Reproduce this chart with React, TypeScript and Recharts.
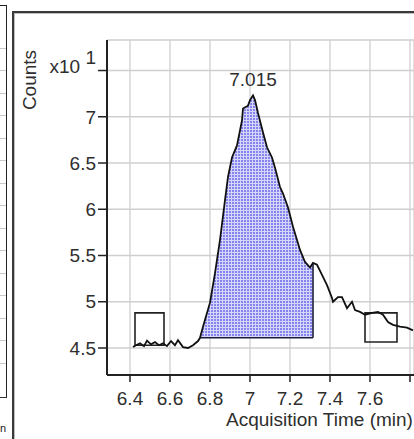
import React from "react";
import {
  Area,
  CartesianGrid,
  ComposedChart,
  Line,
  ReferenceArea,
  ReferenceDot,
  ReferenceLine,
  XAxis,
  YAxis,
} from "recharts";

// acquisition time (min) and counts (x10^1)
const times = [
  6.415, 6.43, 6.45, 6.47, 6.485, 6.505, 6.525, 6.545, 6.565, 6.585, 6.605, 6.625, 6.64, 6.665,
  6.69, 6.715, 6.74, 6.75, 6.765, 6.8, 6.825, 6.85, 6.875, 6.89, 6.91, 6.935, 6.96, 6.965, 6.99,
  7.0, 7.015, 7.025, 7.04, 7.065, 7.085, 7.11, 7.125, 7.15, 7.165, 7.19, 7.215, 7.25, 7.275, 7.3,
  7.315, 7.335, 7.36, 7.385, 7.41, 7.415, 7.44, 7.46, 7.485, 7.51, 7.525, 7.55, 7.575, 7.61, 7.64,
  7.665, 7.69, 7.715, 7.75, 7.785, 7.815,
];
const counts = [
  4.51, 4.53, 4.55, 4.52, 4.58, 4.54, 4.565, 4.53, 4.55, 4.52, 4.575, 4.53, 4.585, 4.51,
  4.5, 4.53, 4.575, 4.61, 4.73, 4.99, 5.31, 5.67, 6.1, 6.35, 6.56, 6.69, 6.96, 7.09, 7.12,
  7.18, 7.23, 7.18, 7.04, 6.83, 6.67, 6.56, 6.45, 6.24, 6.17, 6.02, 5.81, 5.56, 5.43, 5.37,
  5.42, 5.4, 5.29, 5.18, 5.04, 5.0, 5.05, 5.05, 4.93, 5.0, 4.91, 4.89, 4.86, 4.88, 4.89,
  4.86, 4.78, 4.75, 4.73, 4.72, 4.69,
];

const xTicks = [6.4, 6.6, 6.8, 7, 7.2, 7.4, 7.6, 7.8];
const yTicks = [4.5, 5, 5.5, 6, 6.5, 7, 7.5];

// integrated peak
const peakTime = 7.015;
const peakCount = 7.23;
const fillStart = 6.75;
const fillEnd = 7.315;
const fillBase = 4.61;

// noise boxes [x1, x2, y1, y2]
const noiseBoxes = [
  [6.425, 6.57, 4.53, 4.88],
  [7.575, 7.735, 4.565, 4.88],
];

const data = times.map((t, i) => {
  const inPeak = t >= fillStart && t <= fillEnd;
  return {
    t,
    c: counts[i],
    peak: inPeak ? counts[i] : null,
    base: inPeak ? fillBase : null,
  };
});

const font = "'Liberation Sans', Arial, sans-serif";
const ink = "#2e2e2e";

const YTick = ({ x, y, payload }: any) => {
  if (payload.value === 7.5) {
    return (
      <text x={x} y={y - 4} dy="0.355em" textAnchor="end" fontSize={19} fill={ink} fontFamily={font}>
        x10 <tspan dy={-9}>1</tspan>
      </text>
    );
  }
  return (
    <text x={x} y={y} dy="0.355em" textAnchor="end" fontSize={19} fill={ink} fontFamily={font}>
      {payload.value}
    </text>
  );
};

const stripLines = [48, 70, 93, 115, 138, 160, 183, 205, 228, 250, 273, 295, 318, 340, 363];

export default function App() {
  return (
    <div
      style={{
        position: "fixed",
        left: 0,
        top: 0,
        width: 414,
        height: 439,
        overflow: "hidden",
        background: "#fff",
      }}
    >
      {/* left side panel bits */}
      <div style={{ position: "absolute", left: 0, top: 5, width: 7, height: 1, background: "#222" }} />
      <div style={{ position: "absolute", left: 6, top: 5, width: 1, height: 392, background: "#222" }} />
      {stripLines.map((y) => (
        <div key={y} style={{ position: "absolute", left: 0, top: y, width: 6, height: 1, background: "#c8c8c8" }} />
      ))}
      <div style={{ position: "absolute", left: 0, top: 397, width: 7, height: 1, background: "#333" }} />
      <div
        style={{
          position: "absolute",
          left: 0,
          top: 422,
          fontSize: 11,
          fontFamily: font,
          color: "#222",
        }}
      >
        n
      </div>
      {/* chart window frame */}
      <div
        style={{
          position: "absolute",
          left: 12,
          top: 11,
          width: 420,
          height: 440,
          borderLeft: "2px solid #3a3a3a",
          borderTop: "2px solid #3a3a3a",
          boxShadow: "inset 1px 1px 0 #bdbdbd",
        }}
      />
      <div
        style={{
          position: "absolute",
          left: 22,
          top: 80,
          transform: "translate(-50%, -50%) rotate(-90deg)",
          transformOrigin: "center",
          fontSize: 19,
          fontFamily: font,
          color: ink,
          whiteSpace: "nowrap",
          marginLeft: 8,
        }}
      >
        Counts
      </div>
      <div style={{ position: "absolute", left: 0, top: 0 }}>
        <ComposedChart width={414} height={439} data={data} margin={{ top: 40, right: 0, bottom: 34, left: 7 }}>
          <defs>
            <pattern id="dots" width={3} height={3} patternUnits="userSpaceOnUse">
              <rect width={3} height={3} fill="#d6d6fb" />
              <rect x={1} y={1} width={2} height={2} fill="#8484ec" />
            </pattern>
          </defs>
          <CartesianGrid stroke="#cfcfcf" strokeWidth={1.3} />
          <XAxis
            dataKey="t"
            type="number"
            domain={[6.285, 7.82]}
            allowDataOverflow
            ticks={xTicks}
            interval={0}
            tickFormatter={(v: number) => (v === 7.8 ? "" : String(v))}
            tickSize={7}
            tickMargin={10}
            height={30}
            axisLine={{ stroke: "#222", strokeWidth: 2 }}
            tickLine={{ stroke: "#222", strokeWidth: 1.5 }}
            tick={{ fontSize: 19, fill: ink, fontFamily: font }}
            label={{
              value: "Acquisition Time (min)",
              position: "bottom",
              dx: 59,
              dy: 3,
              fontSize: 19,
              fill: ink,
              fontFamily: font,
            }}
          />
          <YAxis
            type="number"
            domain={[4.208, 7.83]}
            allowDataOverflow
            ticks={yTicks}
            interval={0}
            width={100}
            tickSize={9}
            tickMargin={2}
            axisLine={{ stroke: "#222", strokeWidth: 2 }}
            tickLine={{ stroke: "#222", strokeWidth: 1.5 }}
            tick={<YTick />}
          />
          <Area
            dataKey="peak"
            type="linear"
            baseValue={fillBase}
            fill="url(#dots)"
            fillOpacity={1}
            stroke="none"
            isAnimationActive={false}
            dot={false}
            activeDot={false}
          />
          <Line
            dataKey="base"
            type="linear"
            stroke="#1e1e3a"
            strokeWidth={1.6}
            dot={false}
            activeDot={false}
            isAnimationActive={false}
          />
          <ReferenceLine
            segment={[
              { x: fillEnd, y: fillBase },
              { x: fillEnd, y: counts[times.indexOf(fillEnd)] },
            ]}
            stroke="#1e1e3a"
            strokeWidth={1.6}
          />
          <Line
            dataKey="c"
            type="linear"
            stroke="#111"
            strokeWidth={1.8}
            dot={false}
            activeDot={false}
            isAnimationActive={false}
          />
          {noiseBoxes.map(([x1, x2, y1, y2], i) => (
            <ReferenceArea
              key={i}
              x1={x1}
              x2={x2}
              y1={y1}
              y2={y2}
              fill="none"
              fillOpacity={0}
              stroke="#222"
              strokeWidth={1.6}
            />
          ))}
          <ReferenceDot
            x={peakTime}
            y={peakCount}
            r={0}
            stroke="none"
            fill="none"
            label={{ value: "7.015", position: "top", offset: 9, fontSize: 19, fill: ink, fontFamily: font }}
          />
        </ComposedChart>
      </div>
    </div>
  );
}
